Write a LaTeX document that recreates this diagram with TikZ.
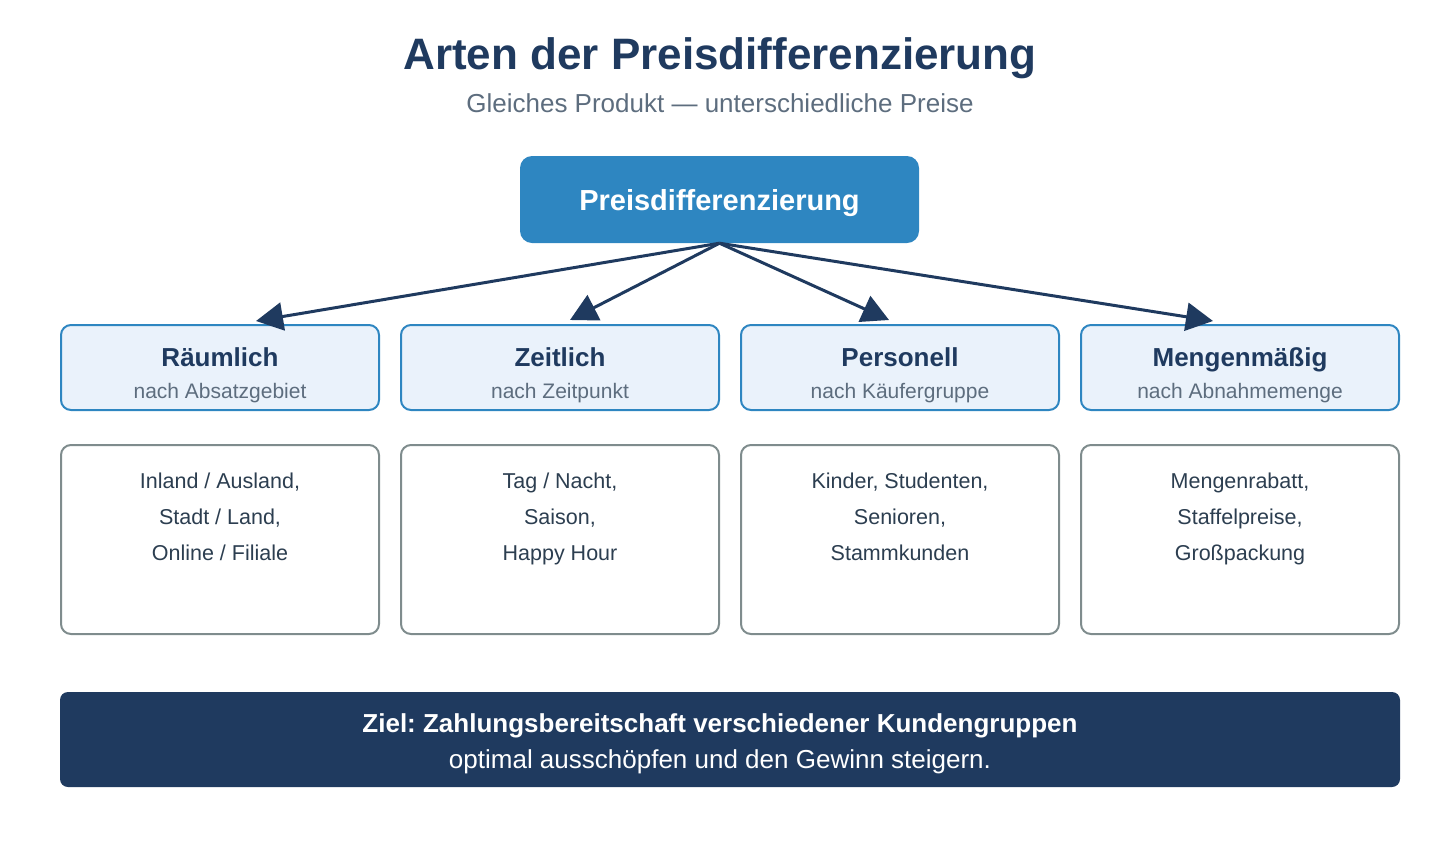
\documentclass[tikz,border=0pt]{standalone}
\usepackage{fontspec}
\setmainfont{Liberation Sans}
\usepackage{xcolor}
\usetikzlibrary{arrows.meta,positioning}
\frenchspacing

\definecolor{navy}{HTML}{1F3A5F}
\definecolor{blau}{HTML}{2E86C1}
\definecolor{hellblau}{HTML}{EAF2FB}
\definecolor{grautext}{HTML}{5D6D7E}
\definecolor{grauline}{HTML}{7F8C8D}
\definecolor{dunkeltext}{HTML}{2C3E50}

\begin{document}
\begin{tikzpicture}[
  x=1pt, y=-1pt,
  >={Triangle[length=27pt, width=28pt]},
  titel/.style={anchor=base, inner sep=0pt, text=navy, font=\fontsize{44}{50}\selectfont\bfseries},
  untertitel/.style={anchor=base, inner sep=0pt, text=grautext, font=\fontsize{26}{30}\selectfont},
  hauptbox/.style={fill=blau, rounded corners=12pt, minimum width=399pt, minimum height=87pt, text depth=0pt, text=white, font=\fontsize{29}{34}\selectfont\bfseries},
  artbox/.style={draw=blau, fill=hellblau, line width=2pt, rounded corners=10pt, minimum width=318pt, minimum height=85pt},
  arttitel/.style={anchor=base, inner sep=0pt, text=navy, font=\fontsize{26}{30}\selectfont\bfseries},
  artsub/.style={anchor=base, inner sep=0pt, text=grautext, font=\fontsize{21}{25}\selectfont},
  detailbox/.style={draw=grauline, fill=white, line width=2pt, rounded corners=10pt, minimum width=318pt, minimum height=189pt},
  detailtext/.style={anchor=base, inner sep=0pt, align=center, text=dunkeltext, font=\fontsize{21.5}{36}\selectfont},
  zielbox/.style={fill=navy, rounded corners=8pt, minimum width=1340pt, minimum height=95pt},
  pfeil/.style={->, line width=3pt, navy}
]
\useasboundingbox (0,0) rectangle (1440,860);

% Ueberschrift
\node[titel] (titel) at (720,69) {Arten der Preisdifferenzierung};
\node[untertitel] (untertitel) at (720,112) {Gleiches Produkt — unterschiedliche Preise};

% Oberbegriff
\node[hauptbox] (haupt) at (719.5,199.5) {Preisdifferenzierung};

% Vier Arten
\node[artbox] (raeum) at (220,367.5) {};
\node[arttitel] (raeumT) at (220,366) {Räumlich};
\node[artsub] (raeumS) at (220,398) {nach Absatzgebiet};

\node[artbox] (zeit) at (560,367.5) {};
\node[arttitel] (zeitT) at (560,366) {Zeitlich};
\node[artsub] (zeitS) at (560,398) {nach Zeitpunkt};

\node[artbox] (pers) at (900,367.5) {};
\node[arttitel] (persT) at (900,366) {Personell};
\node[artsub] (persS) at (900,398) {nach Käufergruppe};

\node[artbox] (menge) at (1240,367.5) {};
\node[arttitel] (mengeT) at (1240,366) {Mengenmäßig};
\node[artsub] (mengeS) at (1240,398) {nach Abnahmemenge};

% Pfeile vom Oberbegriff
\coordinate (zRaeum) at (256,321);
\coordinate (zZeit) at (570,320);
\coordinate (zPers) at (889,320);
\coordinate (zMenge) at (1213,321);
\draw[pfeil] (haupt.south) -- (zRaeum);
\draw[pfeil] (haupt.south) -- (zZeit);
\draw[pfeil] (haupt.south) -- (zPers);
\draw[pfeil] (haupt.south) -- (zMenge);

% Beispiele je Art (Basislinie = letzte Zeile)
\node[detailbox] (raeumD) at (220,539.5) {};
\node[detailtext] (raeumB) at (220,560.5) {Inland / Ausland,\\Stadt / Land,\\Online / Filiale};

\node[detailbox] (zeitD) at (560,539.5) {};
\node[detailtext] (zeitB) at (560,560.5) {Tag / Nacht,\\Saison,\\Happy Hour};

\node[detailbox] (persD) at (900,539.5) {};
\node[detailtext] (persB) at (900,560.5) {Kinder, Studenten,\\Senioren,\\Stammkunden};

\node[detailbox] (mengeD) at (1240,539.5) {};
\node[detailtext] (mengeB) at (1240,560.5) {Mengenrabatt,\\Staffelpreise,\\Großpackung};

% Ziel
\node[zielbox] (ziel) at (730,739.5) {};
\node[anchor=base, inner sep=0pt, text=white, font=\fontsize{26}{30}\selectfont\bfseries] (zielA) at (720,732) {Ziel: Zahlungsbereitschaft verschiedener Kundengruppen};
\node[anchor=base, inner sep=0pt, text=white, font=\fontsize{26}{30}\selectfont] (zielB) at (720,768) {optimal ausschöpfen und den Gewinn steigern.};

\end{tikzpicture}
\end{document}
